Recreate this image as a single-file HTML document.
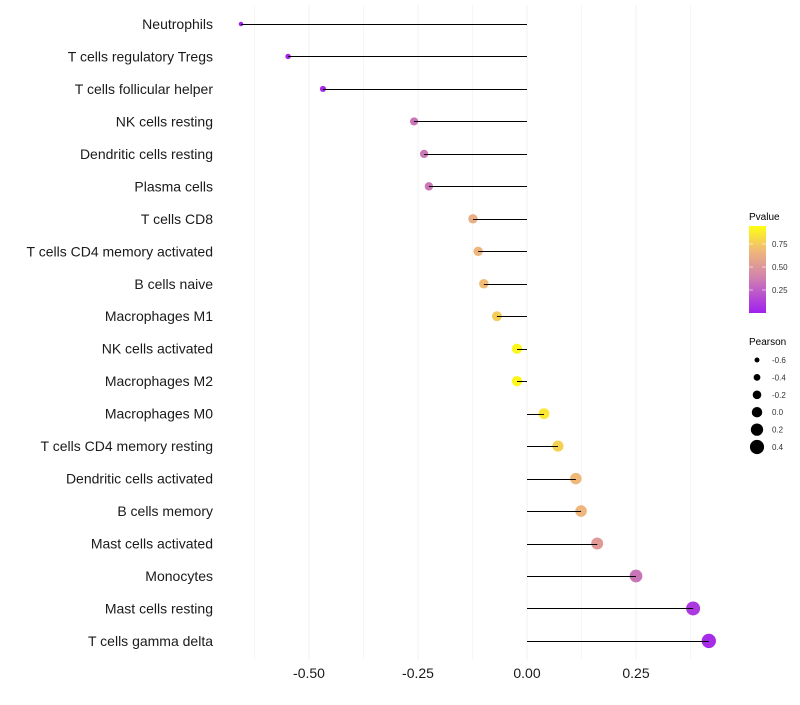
<!DOCTYPE html>
<html><head><meta charset="utf-8"><style>
body{margin:0;background:#fff;font-family:"Liberation Sans",sans-serif}
svg text{font-family:"Liberation Sans",sans-serif}
</style></head><body>
<svg id="chart" width="800" height="700" viewBox="0 0 800 700" xmlns="http://www.w3.org/2000/svg">
<defs><linearGradient id="pg" x1="0" y1="1" x2="0" y2="0">
<stop offset="0" stop-color="#a020f0"/><stop offset="0.4" stop-color="#d080b0"/><stop offset="0.72" stop-color="#f0b878"/><stop offset="1" stop-color="#ffff10"/></linearGradient></defs>
<g id="grid"></g>
<g id="marks"></g>
<g id="ylabels"></g>
<g id="xlabels"></g>
<g>
<text x="749" y="220" font-size="10">Pvalue</text>
<rect x="749" y="226" width="17" height="87" fill="url(#pg)"/>
<g id="cbticks"></g>
</g>
<g id="sizelegend">
<text x="749" y="345" font-size="10">Pearson</text>
</g>
</svg>
<script>
const categories=["Neutrophils","T cells regulatory  Tregs","T cells follicular helper","NK cells resting","Dendritic cells resting","Plasma cells","T cells CD8","T cells CD4 memory activated","B cells naive","Macrophages M1","NK cells activated","Macrophages M2","Macrophages M0","T cells CD4 memory resting","Dendritic cells activated","B cells memory","Mast cells activated","Monocytes","Mast cells resting","T cells gamma delta"];
const pearson=[-0.656,-0.548,-0.468,-0.259,-0.236,-0.225,-0.124,-0.112,-0.099,-0.069,-0.023,-0.023,0.039,0.071,0.112,0.124,0.161,0.25,0.381,0.417];
const pvalue=[0.01,0.02,0.04,0.35,0.36,0.36,0.66,0.7,0.73,0.8,0.97,0.97,0.9,0.82,0.72,0.7,0.55,0.35,0.1,0.05];
const xTicks=[-0.5,-0.25,0,0.25];
const xTickLabels=["-0.50","-0.25","0.00","0.25"];
const cbTicks=[0.25,0.5,0.75];
const sizeLegend=[-0.6,-0.4,-0.2,0.0,0.2,0.4];
const sizeLegendLabels=["-0.6","-0.4","-0.2","0.0","0.2","0.4"];
const NS="http://www.w3.org/2000/svg";
const X=v=>527+v*436;
const Y=i=>24+i*32.47;
const R=v=>2.2+(v+0.66)*4.6;
const P=p=>313-p*92;
function col(p){const st=[[0,[160,32,240]],[0.4,[208,128,176]],[0.72,[240,184,120]],[1,[255,255,16]]];
for(let k=1;k<st.length;k++){if(p<=st[k][0]){const a=st[k-1],b=st[k],t=(p-a[0])/(b[0]-a[0]);
return "rgb("+a[1].map((c,j)=>Math.round(c+(b[1][j]-c)*t)).join(",")+")";}}return "rgb(255,255,16)";}
function mk(t,a,parent){const e=document.createElementNS(NS,t);for(const k in a)e.setAttribute(k,a[k]);parent.appendChild(e);return e;}
const grid=document.getElementById('grid');
[-0.625,-0.5,-0.375,-0.25,-0.125,0,0.125,0.25,0.375].forEach(v=>{
const l=mk('line',{x1:X(v),x2:X(v),y1:5,y2:660,stroke:'#f0f0f0','stroke-width':(v*8)%2===0?1:0.6},grid);

});
const marks=document.getElementById('marks'),yl=document.getElementById('ylabels');
categories.forEach((c,i)=>{
const d=mk('circle',{cx:X(pearson[i]),cy:Y(i),r:R(pearson[i]),fill:col(pvalue[i])},marks);


const ly=Math.round(Y(i))+0.5;
const l=mk('line',{x1:X(0),x2:X(pearson[i]),y1:ly,y2:ly,stroke:'#000','stroke-width':1},marks);


const t=mk('text',{x:213,y:Y(i)+5,'text-anchor':'end','font-size':14,fill:'#1a1a1a'},yl);
t.textContent=c;

});
const xl=document.getElementById('xlabels');
xTicks.forEach((v,i)=>{const t=mk('text',{x:X(v),y:678,'text-anchor':'middle','font-size':14,fill:'#1a1a1a'},xl);
t.textContent=xTickLabels[i];

});
const cb=document.getElementById('cbticks');
cbTicks.forEach(v=>{mk('line',{x1:749,x2:753,y1:P(v),y2:P(v),stroke:'#fff','stroke-opacity':0.6},cb);
mk('line',{x1:762,x2:766,y1:P(v),y2:P(v),stroke:'#fff','stroke-opacity':0.6},cb);
const t=mk('text',{x:772,y:P(v)+3,'font-size':8,fill:'#333'},cb);t.textContent=v.toFixed(2);

});
const sl=document.getElementById('sizelegend');
sizeLegend.forEach((v,i)=>{const y=360+i*17.4;
const c=mk('circle',{cx:757,cy:y,r:R(v),fill:'#000'},sl);


const t=mk('text',{x:772,y:y+3,'font-size':8,fill:'#333'},sl);t.textContent=sizeLegendLabels[i];

});
</script>
</body></html>
